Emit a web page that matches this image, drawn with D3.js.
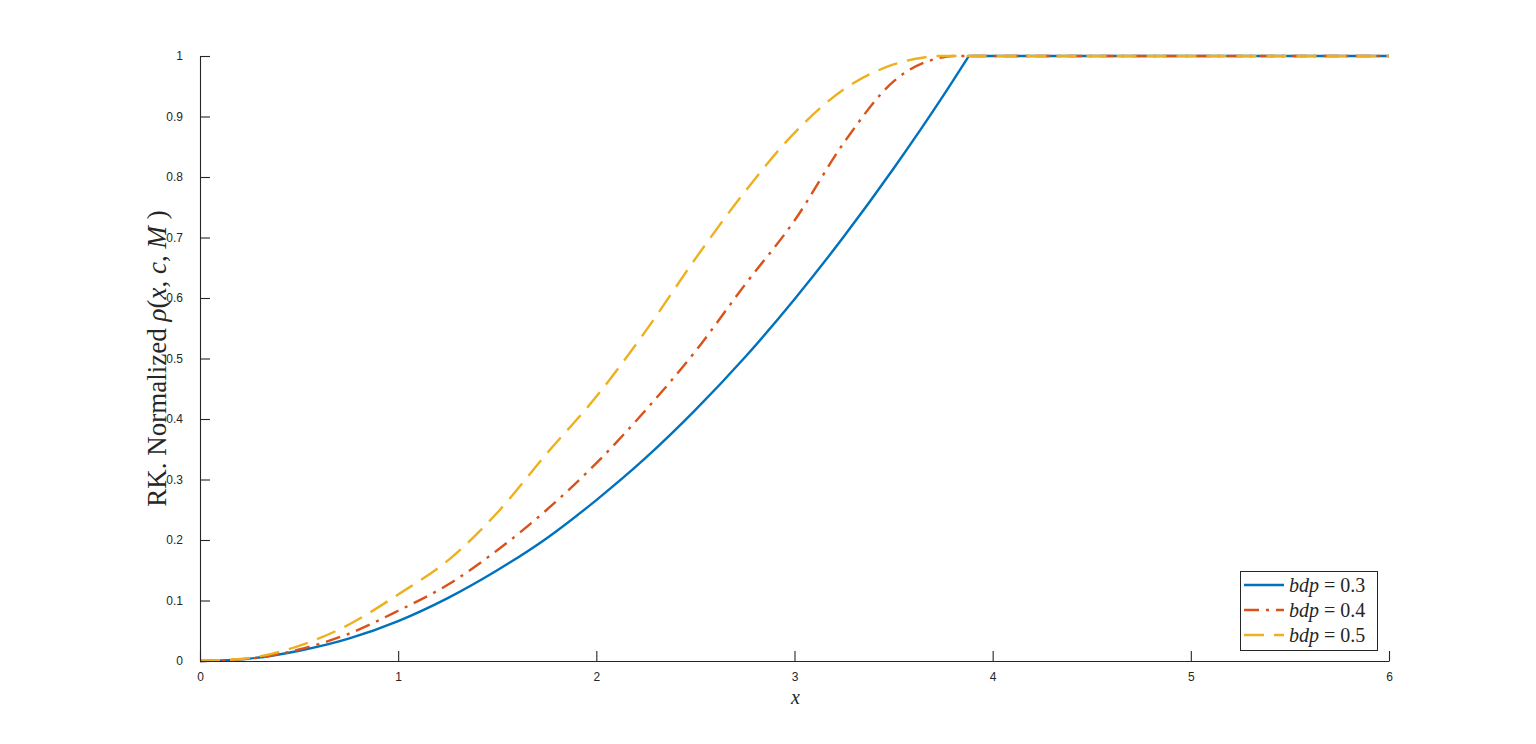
<!DOCTYPE html>
<html><head><meta charset="utf-8">
<script src="https://cdn.jsdelivr.net/npm/d3@7/dist/d3.min.js"></script>
<style>body{margin:0;background:#fff;} svg{display:block;}</style>
</head><body>
<svg id="c" width="1536" height="744"></svg>
<script>
const xs03  = [0, 0.25, 0.5, 0.75, 1, 1.25, 1.5, 1.75, 2, 2.25, 2.5, 2.75, 3, 3.25, 3.5, 3.75, 3.88];
const bdp03 = [0, 0.004, 0.017, 0.037, 0.066, 0.104, 0.150, 0.203, 0.266, 0.336, 0.415, 0.502, 0.598, 0.702, 0.814, 0.934, 1.000];
const xs04  = [0, 0.25, 0.5, 0.75, 1, 1.25, 1.5, 1.75, 2, 2.25, 2.5, 2.75, 3, 3.25, 3.5, 3.75, 3.8];
const bdp04 = [0, 0.004, 0.019, 0.045, 0.083, 0.126, 0.183, 0.250, 0.327, 0.415, 0.512, 0.622, 0.728, 0.857, 0.958, 0.998, 1.000];
const xs05  = [0, 0.25, 0.5, 0.75, 1, 1.25, 1.5, 1.75, 2, 2.25, 2.5, 2.75, 3, 3.25, 3.5, 3.7];
const bdp05 = [0, 0.005, 0.025, 0.060, 0.110, 0.166, 0.245, 0.343, 0.437, 0.546, 0.665, 0.776, 0.873, 0.945, 0.986, 1.000];
const tailX = [6];
const tailY = [1];
const seriesNames = ["0.3", "0.4", "0.5"];
const xTicks = [0, 1, 2, 3, 4, 5, 6];
const yTicks = [0, 0.1, 0.2, 0.3, 0.4, 0.5, 0.6, 0.7, 0.8, 0.9, 1];

const svg = d3.select("#c");
const L = 200, R = 1389, T = 56, B = 661;
const x = d3.scaleLinear().domain([0, 6]).range([L, R]);
const y = d3.scaleLinear().domain([0, 1]).range([B, T]);
const axisColor = "#262626";

const zip = (a, b) => a.map((v, i) => [v, b[i]]);
const series = [
  {name: seriesNames[0], rise: zip(xs03, bdp03), color: "#0072BD", dash: null},
  {name: seriesNames[1], rise: zip(xs04, bdp04), color: "#D95319", dash: "15,7,3,7"},
  {name: seriesNames[2], rise: zip(xs05, bdp05), color: "#EDB120", dash: "20,10"}
];

const curveLine = d3.line().x(d => x(d[0])).y(d => y(d[1])).curve(d3.curveMonotoneX);
const flatLine = d3.line().x(d => x(d[0])).y(d => y(d[1]));
series.forEach(s => {
  const last = s.rise[s.rise.length - 1];
  const tail = [last].concat(zip(tailX, tailY));
  const d = curveLine(s.rise) + flatLine(tail).replace(/^M[^L]*/, "");
  svg.append("path").attr("d", d).attr("fill", "none")
    .attr("stroke", s.color).attr("stroke-width", 2.4)
    .attr("stroke-dasharray", s.dash);
});

// axes (MATLAB style, ticks inward)
const xAxis = d3.axisBottom(x).tickValues(xTicks).tickSizeInner(-10).tickSizeOuter(0).tickPadding(11).tickFormat(d3.format("d"));
const gx = svg.append("g").attr("transform", `translate(0,${B})`).call(xAxis);
const yAxis = d3.axisLeft(y).tickValues(yTicks).tickSizeInner(-10).tickSizeOuter(0).tickPadding(17).tickFormat(d => d === 0 || d === 1 ? d3.format("d")(d) : d3.format(".1f")(d));
const gy = svg.append("g").attr("transform", `translate(${L},0)`).call(yAxis);
[gx, gy].forEach(g => {
  g.select(".domain").attr("stroke", axisColor).attr("stroke-width", 1.1);
  g.selectAll(".tick line").attr("stroke", axisColor).attr("stroke-width", 1.1);
  g.selectAll(".tick text").attr("fill", axisColor).style("font-family", "'Liberation Sans', Arial, sans-serif").style("font-size", "12px");
});

// labels
svg.append("text").attr("x", (L + R) / 2 + 1).attr("y", 704).attr("text-anchor", "middle")
  .style("font-family", "'Liberation Serif', 'Times New Roman', serif").style("font-style", "italic").style("font-size", "20px")
  .attr("fill", axisColor).text("x");

const yl = svg.append("text").attr("transform", `translate(166,${(T + B) / 2}) rotate(-90)`).attr("text-anchor", "middle")
  .style("font-family", "'Liberation Serif', 'Times New Roman', serif").style("font-size", "27px").attr("fill", axisColor);
yl.append("tspan").text("RK. Normalized ");
yl.append("tspan").style("font-style", "italic").text("ρ");
yl.append("tspan").text("(");
yl.append("tspan").style("font-style", "italic").text("x");
yl.append("tspan").text(", ");
yl.append("tspan").style("font-style", "italic").text("c");
yl.append("tspan").text(", ");
yl.append("tspan").style("font-style", "italic").text("M");
yl.append("tspan").text(" )");

// legend
const lg = svg.append("g");
lg.append("rect").attr("x", 1240.5).attr("y", 571.5).attr("width", 137).attr("height", 79)
  .attr("fill", "#fff").attr("stroke", axisColor).attr("stroke-width", 1);
series.forEach((s, i) => {
  const yy = 585 + i * 25;
  lg.append("line").attr("x1", 1244).attr("x2", 1284).attr("y1", yy).attr("y2", yy)
    .attr("stroke", s.color).attr("stroke-width", 2.4).attr("stroke-dasharray", s.dash);
  const t = lg.append("text").attr("x", 1289).attr("y", yy + 7)
    .style("font-family", "'Liberation Serif', 'Times New Roman', serif").style("font-size", "20px").attr("fill", axisColor);
  t.append("tspan").style("font-style", "italic").text("bdp");
  t.append("tspan").attr("dx", 5).text("=");
  t.append("tspan").attr("dx", 5).text(s.name);
});
</script>
</body></html>
